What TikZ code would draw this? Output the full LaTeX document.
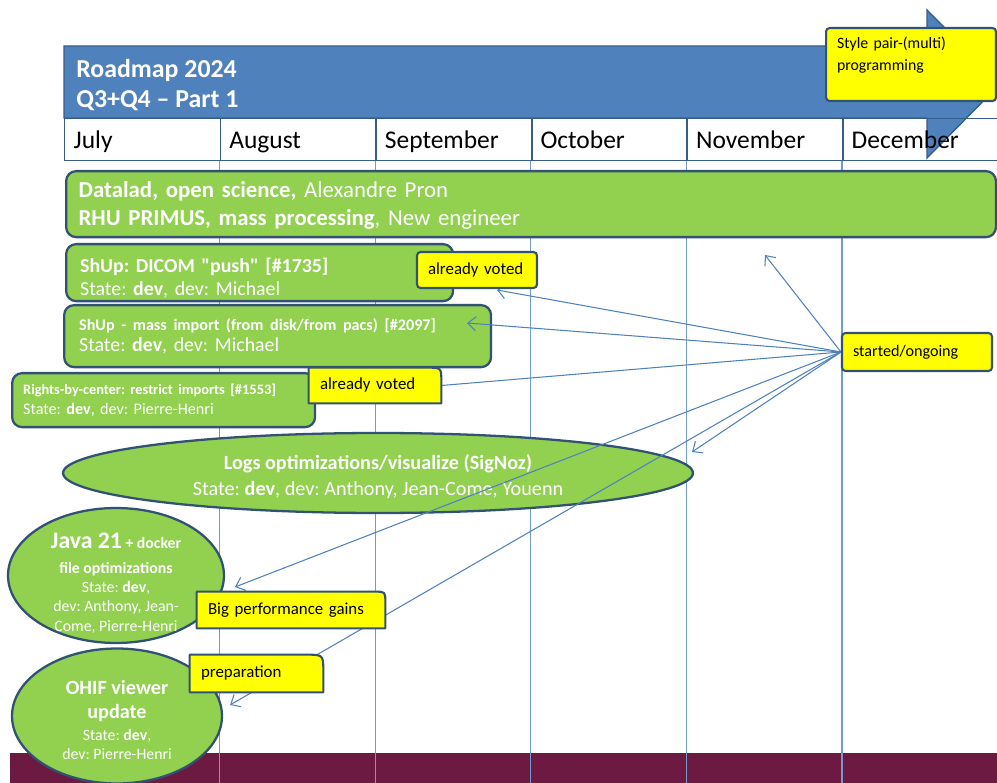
\documentclass[tikz,border=0pt]{standalone}
\usepackage{fontspec}
\setmainfont{Carlito}[Ligatures=TeXOff]
\usepackage{tikz}
\usetikzlibrary{shapes,shapes.geometric,arrows,arrows.meta,backgrounds,positioning,fit}
\frenchspacing

\pgfdeclarelayer{grid}
\pgfdeclarelayer{links}
\pgfdeclarelayer{front}
\pgfdeclarelayer{top}
\pgfsetlayers{grid,main,links,front,top}

\definecolor{BannerBlue}{RGB}{79,129,189}
\definecolor{BannerEdge}{RGB}{56,93,138}
\definecolor{TaskGreen}{RGB}{146,208,80}
\definecolor{TaskEdge}{RGB}{50,82,116}
\definecolor{NoteYellow}{RGB}{255,255,0}
\definecolor{BandRed}{RGB}{108,26,66}
\definecolor{GridBlue}{RGB}{115,155,205}

% note with one rounded corner (top right)
\newcommand{\cornernote}[2]{%
  \draw[NoteShape] (#1.south west) -- (#1.north west) -- ([xshift=-#2]#1.north east)
    .. controls (#1.north east) .. ([yshift=-#2]#1.north east) -- (#1.south east) -- cycle;}
% pushes a text block down inside its box
\newcommand{\lift}[1]{\rule{0pt}{#1}}

\begin{document}
\begin{tikzpicture}[x=0.02cm,y=-0.02cm]
			\tikzstyle{Task}	= [rectangle, rounded corners=0.2cm, draw=TaskEdge, line width=1.3pt, fill=TaskGreen, text=white, anchor=north west, align=left, inner ysep=0pt]
			\tikzstyle{TaskEll}	= [ellipse, draw=TaskEdge, line width=1.3pt, fill=TaskGreen, inner sep=0pt]
			\tikzstyle{EllText}	= [text=white, align=center, inner sep=0pt]
			\tikzstyle{Note}	= [fill=NoteYellow, draw=TaskEdge, line width=1.2pt, rounded corners=2pt]
			\tikzstyle{NoteShape}	= [fill=NoteYellow, draw=TaskEdge, line width=1.2pt, line join=round]
			\tikzstyle{NoteText}	= [font=\fontsize{9.6}{11}\selectfont, text=black, align=left, inner xsep=0.22cm]
			\tikzstyle{Month}	= [draw=BannerEdge, line width=0.8pt, minimum height=0.84cm, text width=2.76cm, inner xsep=0.18cm, text height=12pt, text depth=1.5pt, align=left, anchor=north west, font=\fontsize{14.5}{16}\selectfont]
			\tikzstyle{Grid}	= [GridBlue, line width=0.7pt]
			\tikzstyle{Link}	= [BannerBlue, line width=0.6pt, -{Straight Barb[length=1.6mm,width=2.8mm]}]
			
			\useasboundingbox (0,0) rectangle (997,783);
			
			% banner arrow and months
			\fill[BannerBlue, draw=BannerEdge, line width=0.8pt] (64,46) -- (927,46) -- (927,10) -- (1000,84) -- (927,158) -- (927,118) -- (64,118) -- cycle;
			\node[anchor=west, inner xsep=0.24cm, text=white, align=left, font=\bfseries\fontsize{14.7}{17.5}\selectfont] (title) at (64,85) {Roadmap 2024\\Q3+Q4 – Part 1};
			\foreach \name [count=\i] in {July,August,September,October,November,December}
				\node[Month] (m\i) at ({64+(\i-1)*155.6},118) {\name};
			
			\begin{pgfonlayer}{grid}
				\fill[BandRed] (10,753) rectangle (997,783);
				\coordinate (bottom) at (0,783);
				\foreach \i in {2,...,6}
					\draw[Grid] (m\i.south west) -- (m\i.south west |- bottom);
			\end{pgfonlayer}
			
			% tasks
			\node[Task, minimum width=18.6cm, minimum height=1.32cm, text width=18.1cm, inner xsep=0.25cm, font=\fontsize{13}{16}\selectfont] (datalad) at (65,170) {\lift{11pt}\textbf{Datalad, open science,} Alexandre Pron\\\textbf{RHU PRIMUS, mass processing}, New engineer};
			\node[Task, minimum width=7.74cm, minimum height=1.14cm, text width=7.18cm, inner xsep=0.28cm, font=\fontsize{11.3}{13}\selectfont] (dicom) at (65,243) {\lift{14pt}\textbf{ShUp: DICOM "push" [\#1735]}\\State: \textbf{dev}, dev: Michael};
			\node[Task, minimum width=8.54cm, minimum height=1.24cm, text width=7.94cm, inner xsep=0.3cm, font=\fontsize{11.3}{12}\selectfont] (massimport) at (63,304) {{\fontsize{9.2}{11}\selectfont\textbf{ShUp - mass import (from disk/from pacs) [\#2097]}}\\State: \textbf{dev}, dev: Michael};
			\node[Task, minimum width=6.06cm, minimum height=1.08cm, text width=5.62cm, inner xsep=0.22cm, font=\fontsize{9.2}{11.3}\selectfont] (rights) at (11,372) {{\fontsize{8.2}{9}\selectfont\textbf{Rights-by-center: restrict imports [\#1553]}}\\State: \textbf{dev}, dev: Pierre-Henri};
			
			\node[TaskEll, minimum width=12.6cm, minimum height=1.6cm] (logs) at (378,473) {};
			\node[EllText, font=\fontsize{11.5}{14.7}\selectfont] (logstext) at (378,477) {\textbf{Logs optimizations/visualize (SigNoz)}\\State: \textbf{dev}, dev: Anthony, Jean-Come, Youenn};
			\node[TaskEll, minimum width=4.32cm, minimum height=2.7cm] (java) at (116,575.5) {};
			\node[EllText, font=\fontsize{9}{11}\selectfont] (javatext) at (116,583) {{\fontsize{13.5}{14}\selectfont\textbf{Java 21}} \textbf{+ docker}\\[3pt]\textbf{file optimizations}\\State: \textbf{dev},\\dev: Anthony, Jean-\\Come, Pierre-Henri};
			\node[TaskEll, minimum width=4.2cm, minimum height=2.7cm] (ohif) at (117,716) {};
			\node[EllText, font=\fontsize{9}{10.8}\selectfont] (ohiftext) at (117,720) {{\fontsize{11.5}{13}\selectfont\textbf{OHIF viewer}}\\[3pt]{\fontsize{11.5}{13}\selectfont\textbf{update}}\\[1.5pt]State: \textbf{dev},\\dev: Pierre-Henri};
			
			% notes
			\begin{pgfonlayer}{front}
				\node[Note, NoteText, minimum width=3.4cm, minimum height=1.46cm, text width=2.96cm, anchor=north west, font=\fontsize{9}{12.5}\selectfont] (pairing) at (825,27) {Style pair-(multi)\\programming\\\mbox{}};
				\node[Note, NoteText, minimum width=3.0cm, minimum height=0.76cm, text width=2.56cm, font=\fontsize{9.2}{11}\selectfont] (started) at (917,352) {started/ongoing};
				\node[Note, NoteText, minimum width=2.4cm, minimum height=0.72cm, text width=1.96cm] (voted1) at (477,270) {already voted};
			\end{pgfonlayer}
			\begin{pgfonlayer}{top}
				\node[NoteText, minimum width=2.64cm, minimum height=0.7cm, text width=2.2cm] (voted2) at (375,385.5) {already voted};
				\node[NoteText, minimum width=3.76cm, minimum height=0.72cm, text width=3.32cm] (gains) at (291,610) {Big performance gains};
				\node[NoteText, minimum width=2.66cm, minimum height=0.74cm, text width=2.22cm] (prep) at (256.5,673.5) {preparation};
			\end{pgfonlayer}
			\begin{pgfonlayer}{front}
				\cornernote{voted2}{8pt}
				\cornernote{gains}{6pt}
				\cornernote{prep}{10pt}
			\end{pgfonlayer}
			
			% links from started/ongoing
			\coordinate (dataladTip) at (765,255);
			\coordinate (dicomTip) at (497,290);
			\coordinate (massTip) at (467,323);
			\coordinate (logsTip) at (692,452);
			\coordinate (javaTip) at (235,587);
			\coordinate (ohifTip) at (230,705);
			\begin{pgfonlayer}{links}
				\draw[Link] (started.west) -- (dataladTip);
				\draw[Link] (started.west) -- (dicomTip);
				\draw[Link] (started.west) -- (massTip);
				\draw[Link, -] (started.west) -- (voted2.east);
				\draw[Link] (started.west) -- (logsTip);
				\draw[Link] (started.west) -- (javaTip);
				\draw[Link] (started.west) -- (ohifTip);
			\end{pgfonlayer}
\end{tikzpicture}
\end{document}
